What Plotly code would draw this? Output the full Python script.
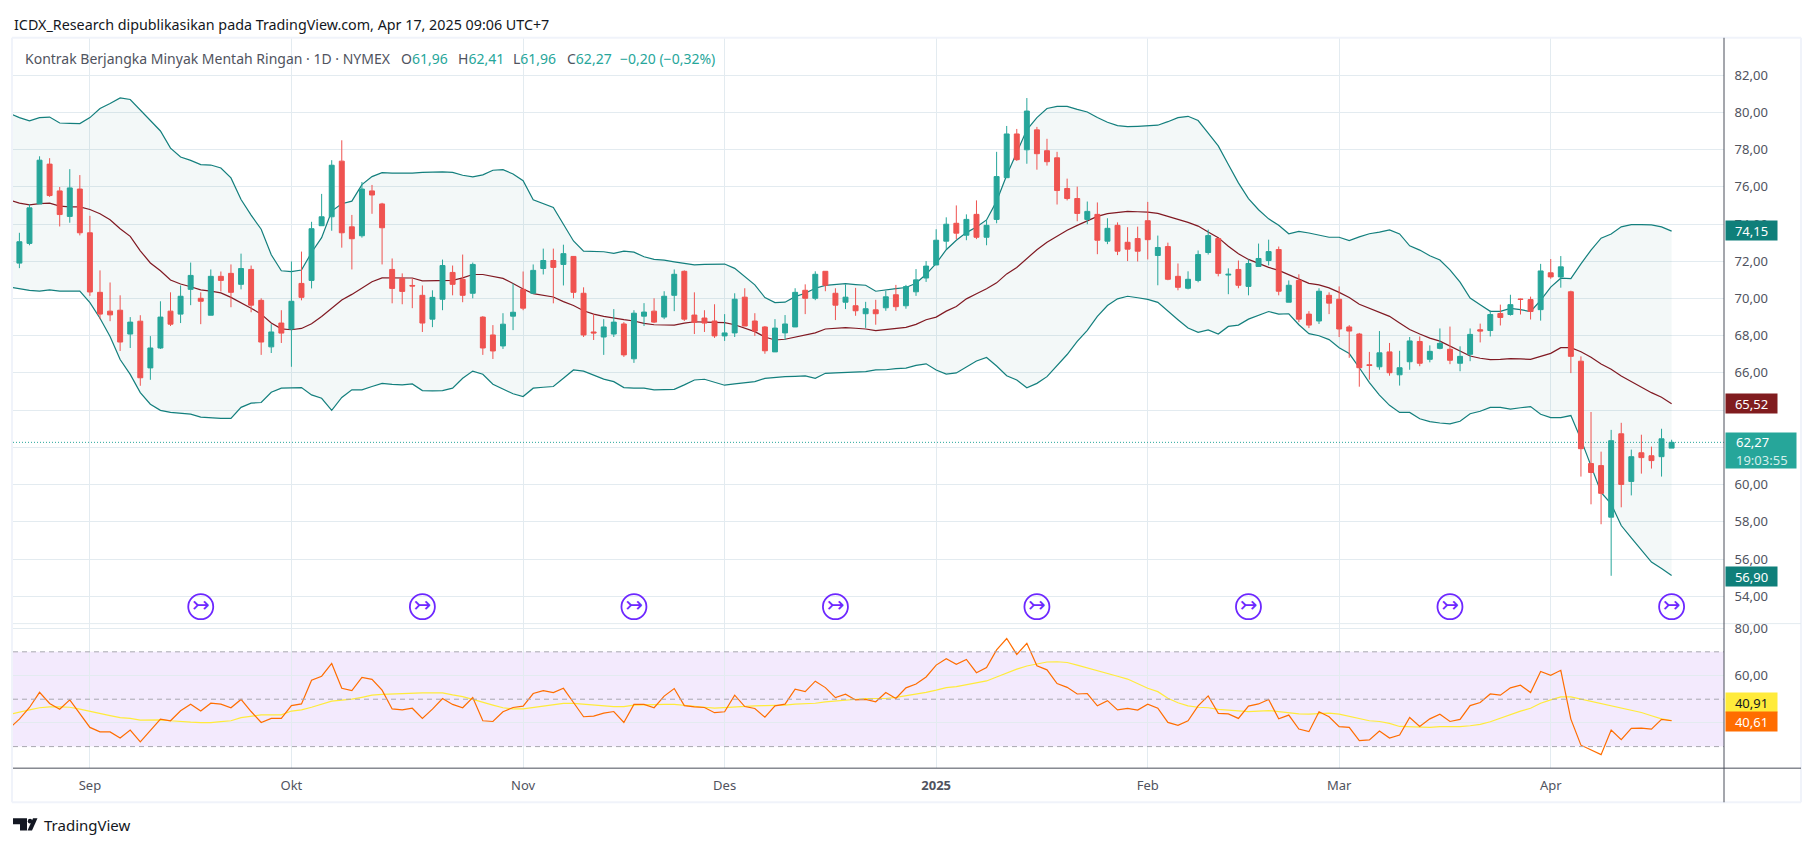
import plotly.graph_objects as go
from plotly.subplots import make_subplots

opens = [71.90, 72.96, 75.08, 77.22, 75.78, 74.41, 75.88, 73.53, 70.33, 69.32, 69.37, 68.09, 68.78, 66.27, 67.34, 69.32, 69.16, 70.49, 70.01, 69.10, 71.19, 71.35, 70.76, 71.56, 69.90, 67.40, 68.68, 68.36,
         70.81, 70.97, 73.91, 74.39, 77.38, 73.85, 73.37, 75.78, 75.08, 71.56, 71.08, 70.70, 70.17, 68.89, 69.96, 71.40, 71.03, 70.28, 69.00, 68.04, 67.45, 69.05, 70.49, 70.28, 71.61, 72.04, 71.83,
         72.26, 70.28, 68.20, 67.93, 68.09, 68.63, 66.76, 69.05, 69.32, 69.00, 70.17, 71.46, 69.11, 68.95, 68.79, 67.99, 68.15, 70.07, 68.79, 68.47, 67.13, 68.15, 68.47, 70.44, 70.01, 71.46, 70.28, 69.80,
         69.61, 69.18, 69.39, 69.50, 70.20, 69.61, 70.36, 71.10, 71.80, 73.08, 74.04, 73.40, 74.52, 73.29, 74.25, 76.49, 78.84, 77.99, 79.06, 77.94, 77.56, 75.91, 75.37, 74.25, 74.52, 73.08, 73.93, 73.02,
         73.22, 74.18, 72.31, 72.79, 71.19, 70.55, 70.97, 72.47, 73.22, 71.26, 71.56, 70.65, 71.72, 72.04, 72.63, 69.80, 70.97, 69.16, 68.79, 70.17, 69.96, 68.47, 68.09, 66.44, 66.33, 67.13, 65.90, 66.60,
         67.69, 66.73, 67.32, 67.27, 66.52, 67.00, 68.32, 68.28, 69.19, 69.14, 69.97, 69.94, 69.40, 71.38, 71.16, 70.36, 66.63, 61.13, 61.02, 58.25, 62.73, 60.17, 61.71, 61.55, 61.50, 61.96]
highs = [73.53, 75.06, 77.64, 77.54, 75.99, 76.95, 76.63, 74.44, 71.51, 70.86, 70.17, 69.00, 69.10, 67.98, 69.85, 70.33, 70.70, 71.93, 70.33, 71.56, 71.45, 71.83, 72.41, 71.77, 70.01, 68.62, 69.37, 71.99,
         72.52, 74.12, 75.62, 77.43, 78.50, 74.49, 76.26, 76.10, 75.14, 72.15, 71.35, 71.08, 70.70, 70.44, 72.09, 71.77, 72.36, 71.93, 69.05, 68.57, 69.21, 70.81, 71.45, 71.83, 72.68, 72.68, 72.89,
         72.28, 70.60, 69.16, 68.89, 69.43, 68.73, 69.37, 69.75, 70.01, 70.39, 71.56, 71.51, 70.33, 69.37, 69.69, 69.16, 70.28, 70.55, 69.21, 68.52, 68.89, 69.11, 70.55, 70.76, 71.46, 71.46, 70.55, 70.76,
         70.57, 69.82, 69.93, 70.41, 70.73, 70.73, 71.58, 72.01, 73.72, 74.36, 75.00, 74.52, 75.27, 74.25, 77.88, 79.27, 79.11, 80.77, 79.22, 78.58, 77.88, 76.44, 76.01, 75.21, 75.16, 74.31, 74.09, 73.83,
         73.86, 75.19, 73.38, 73.00, 71.88, 71.46, 72.58, 73.70, 73.22, 71.62, 72.04, 72.10, 72.95, 73.16, 72.79, 70.97, 71.30, 69.32, 70.55, 70.33, 70.65, 68.57, 68.15, 67.13, 68.25, 67.61, 67.19, 67.93,
         67.96, 67.48, 68.39, 68.49, 67.43, 68.39, 68.65, 69.35, 69.67, 70.20, 69.99, 70.10, 71.86, 72.12, 72.28, 70.42, 66.89, 63.90, 61.77, 62.94, 63.32, 61.88, 62.68, 62.04, 63.00, 62.41]
lows = [71.63, 72.86, 75.08, 75.46, 73.87, 74.07, 73.39, 70.14, 68.89, 68.78, 67.18, 67.34, 65.31, 65.63, 67.29, 68.52, 68.68, 69.64, 68.62, 69.10, 70.38, 69.53, 70.49, 69.26, 66.97, 67.07, 67.61, 66.33,
        69.90, 70.54, 73.91, 73.64, 72.73, 71.56, 73.27, 74.55, 71.83, 69.74, 69.69, 69.48, 68.20, 68.46, 69.37, 70.17, 69.80, 70.01, 66.97, 66.75, 67.29, 68.30, 69.37, 70.28, 71.29, 69.74, 70.70,
        70.01, 67.93, 67.77, 66.97, 67.93, 66.86, 66.54, 68.52, 68.68, 68.89, 69.32, 68.79, 68.09, 68.20, 67.88, 67.72, 67.93, 68.52, 67.99, 67.03, 67.13, 67.77, 68.47, 69.16, 69.91, 70.39, 68.84, 69.43,
        69.07, 68.42, 68.59, 69.34, 69.34, 69.45, 70.14, 70.89, 71.80, 72.65, 73.19, 73.13, 73.19, 72.86, 74.04, 76.49, 77.39, 77.24, 76.92, 77.14, 75.05, 75.27, 74.15, 73.99, 72.38, 72.92, 72.33, 72.01,
        71.99, 72.10, 70.71, 70.98, 70.44, 70.49, 70.87, 72.36, 71.19, 70.23, 70.55, 70.17, 71.72, 71.78, 70.17, 69.80, 68.73, 68.41, 68.63, 69.16, 67.93, 66.81, 65.26, 65.64, 66.17, 65.85, 65.32, 66.17,
        66.36, 66.57, 67.27, 66.47, 66.09, 66.63, 67.64, 67.96, 68.55, 69.08, 69.14, 68.87, 68.81, 71.06, 70.58, 65.99, 60.43, 58.94, 57.87, 55.10, 58.78, 59.42, 60.59, 60.86, 60.43, 61.96]
closes = [73.05, 74.87, 77.43, 75.53, 74.51, 75.94, 73.53, 70.35, 69.16, 69.12, 67.66, 68.73, 65.74, 67.34, 69.00, 68.62, 70.12, 71.24, 69.85, 71.19, 70.97, 70.33, 71.61, 69.64, 67.66, 68.20, 68.14, 69.85,
          70.06, 73.75, 74.39, 77.16, 73.53, 73.21, 75.88, 75.56, 73.80, 70.54, 70.38, 70.67, 68.68, 70.06, 71.77, 70.76, 70.17, 71.83, 67.34, 67.18, 68.62, 69.26, 69.48, 71.51, 72.04, 71.67, 72.41,
          70.33, 68.04, 68.15, 68.47, 68.73, 66.97, 69.21, 69.27, 68.73, 70.12, 71.30, 68.89, 68.72, 68.68, 67.99, 68.15, 69.96, 68.52, 68.25, 67.19, 68.41, 68.63, 70.33, 70.01, 71.30, 70.71, 69.64, 70.07,
          69.34, 69.45, 69.18, 70.09, 69.56, 70.64, 71.00, 71.74, 73.13, 73.99, 73.51, 74.25, 73.29, 73.93, 76.55, 78.84, 77.46, 80.07, 77.78, 77.35, 75.80, 75.37, 74.57, 74.68, 73.13, 73.77, 72.54, 72.65,
          72.54, 73.16, 72.74, 71.03, 70.60, 71.03, 72.36, 73.38, 71.35, 71.30, 70.71, 71.88, 72.15, 72.52, 70.39, 70.71, 68.89, 68.57, 70.39, 69.75, 68.36, 68.25, 66.28, 66.40, 67.08, 66.01, 66.28, 67.72,
          66.52, 67.16, 67.59, 66.68, 66.89, 68.07, 68.25, 69.14, 68.98, 69.67, 69.95, 69.30, 71.48, 71.16, 71.70, 66.89, 61.93, 60.65, 59.53, 62.36, 60.01, 61.50, 61.45, 61.29, 62.46, 62.27]

# the indicator lists start one bar before the first candle, that bar is cut off by the left edge
bb_upper = [79.95, 79.72, 79.54, 79.72, 79.75, 79.43, 79.41, 79.40, 79.72, 80.21, 80.48, 80.78, 80.69, 80.12, 79.59, 79.00, 78.08, 77.60, 77.42, 77.19, 77.17, 77.01, 76.48, 75.32, 74.48, 73.72, 72.35, 71.49, 71.44,
            71.53, 72.47, 73.27, 74.70, 75.09, 75.23, 76.12, 76.55, 76.76, 76.74, 76.73, 76.74, 76.78, 76.80, 76.80, 76.78, 76.62, 76.53, 76.64, 76.89, 76.92, 76.69, 76.33, 75.30, 75.11, 74.89, 73.99,
            73.09, 72.54, 72.54, 72.51, 72.42, 72.54, 72.49, 72.24, 72.10, 72.06, 71.97, 71.90, 71.81, 71.83, 71.83, 71.85, 71.62, 71.17, 70.73, 70.05, 69.78, 69.80, 70.10, 70.28, 70.55, 70.70, 70.73, 70.80,
            70.75, 70.71, 70.39, 70.48, 70.53, 70.59, 70.82, 71.30, 71.89, 72.62, 73.13, 73.54, 73.84, 74.22, 75.23, 76.62, 77.81, 79.06, 79.72, 80.21, 80.32, 80.32, 80.16, 80.02, 79.72, 79.47, 79.29, 79.23,
            79.25, 79.29, 79.31, 79.50, 79.72, 79.79, 79.56, 78.88, 78.20, 77.20, 76.21, 75.37, 74.77, 74.28, 73.93, 73.48, 73.61, 73.52, 73.40, 73.29, 73.29, 73.11, 73.31, 73.48, 73.57, 73.68, 73.47, 72.83,
            72.60, 72.30, 72.07, 71.54, 70.88, 70.02, 69.67, 69.31, 69.31, 69.47, 69.40, 69.30, 69.90, 70.61, 71.09, 71.07, 71.86, 72.60, 73.24, 73.46, 73.85, 73.97, 73.97, 73.95, 73.85, 73.62]
bb_mid = [75.30, 75.12, 75.03, 75.10, 75.12, 74.96, 74.92, 74.92, 74.78, 74.55, 74.23, 73.75, 73.34, 72.56, 71.91, 71.49, 70.99, 70.78, 70.63, 70.46, 70.40, 70.30, 70.06, 69.78, 69.48, 69.16, 68.68, 68.37, 68.32,
          68.39, 68.64, 69.03, 69.48, 69.92, 70.22, 70.54, 70.90, 71.11, 71.11, 71.11, 71.10, 70.95, 70.95, 70.97, 70.97, 71.11, 71.29, 71.29, 71.17, 71.08, 70.81, 70.51, 70.26, 70.19, 70.08, 69.83,
          69.62, 69.34, 69.16, 69.04, 68.93, 68.86, 68.79, 68.66, 68.59, 68.57, 68.57, 68.68, 68.75, 68.73, 68.73, 68.70, 68.59, 68.41, 68.22, 67.93, 67.77, 67.81, 67.91, 68.02, 68.15, 68.36, 68.40, 68.43,
          68.40, 68.36, 68.27, 68.33, 68.38, 68.45, 68.61, 68.86, 69.00, 69.32, 69.57, 69.98, 70.25, 70.52, 70.84, 71.32, 71.67, 72.15, 72.62, 73.02, 73.36, 73.67, 73.93, 74.16, 74.41, 74.56, 74.64, 74.68,
          74.66, 74.64, 74.57, 74.39, 74.25, 74.09, 73.89, 73.57, 73.27, 72.81, 72.40, 72.10, 71.88, 71.67, 71.51, 71.28, 71.06, 70.81, 70.73, 70.57, 70.33, 70.05, 69.69, 69.48, 69.27, 69.04, 68.68, 68.33,
          68.09, 67.87, 67.71, 67.44, 67.14, 66.91, 66.79, 66.72, 66.73, 66.77, 66.75, 66.73, 66.89, 67.05, 67.36, 67.36, 67.14, 66.84, 66.48, 66.20, 65.84, 65.54, 65.22, 64.94, 64.69, 64.35]
bb_lower = [70.62, 70.53, 70.44, 70.40, 70.46, 70.40, 70.40, 70.40, 69.78, 68.94, 67.96, 66.72, 65.92, 64.94, 64.32, 63.99, 63.88, 63.84, 63.79, 63.63, 63.58, 63.56, 63.56, 64.15, 64.38, 64.41, 64.96, 65.18, 65.20,
            65.21, 64.82, 64.64, 63.99, 64.68, 65.09, 65.09, 65.27, 65.44, 65.39, 65.36, 65.41, 65.05, 65.04, 65.05, 65.18, 65.71, 66.10, 65.93, 65.39, 65.14, 64.88, 64.73, 65.18, 65.23, 65.27, 65.71,
            66.16, 66.10, 65.89, 65.67, 65.53, 65.21, 65.18, 65.18, 65.09, 65.09, 65.12, 65.36, 65.62, 65.66, 65.48, 65.34, 65.41, 65.48, 65.53, 65.71, 65.77, 65.80, 65.82, 65.84, 65.71, 65.98, 66.00, 66.01,
            66.05, 66.07, 66.16, 66.17, 66.23, 66.26, 66.41, 66.49, 66.16, 65.94, 66.00, 66.33, 66.64, 66.83, 66.37, 65.85, 65.62, 65.20, 65.44, 65.80, 66.42, 66.99, 67.70, 68.29, 69.04, 69.62, 69.98, 70.12,
            70.04, 69.95, 69.79, 69.31, 68.86, 68.41, 68.18, 68.31, 68.09, 68.50, 68.57, 68.89, 69.09, 69.30, 69.16, 69.18, 68.59, 68.11, 68.00, 67.79, 67.35, 67.04, 66.28, 65.48, 64.81, 64.26, 63.88, 63.88,
            63.54, 63.38, 63.31, 63.26, 63.40, 63.81, 63.94, 64.15, 64.15, 64.06, 64.13, 64.19, 63.78, 63.60, 63.60, 63.71, 62.43, 61.00, 59.58, 58.96, 57.80, 57.14, 56.47, 55.84, 55.49, 55.11]

rsi = [37.7, 41.6, 46.5, 52.9, 48.2, 45.8, 49.7, 44.0, 38.1, 36.2, 36.2, 33.6, 37.0, 32.0, 36.7, 41.6, 40.9, 45.1, 47.9, 45.0, 48.3, 47.9, 46.4, 49.9, 44.8, 40.2, 41.9, 41.9, 47.3,
       48.0, 58.0, 59.7, 65.1, 54.6, 53.6, 59.2, 58.4, 53.8, 45.9, 45.5, 46.2, 41.9, 45.8, 50.3, 47.8, 46.4, 50.7, 40.9, 40.6, 44.7, 46.5, 47.1, 52.4, 53.6, 52.8, 54.6,
       48.6, 42.6, 42.9, 44.1, 44.8, 40.2, 47.8, 47.8, 46.4, 51.3, 54.5, 47.3, 46.8, 46.5, 44.3, 44.7, 51.7, 46.9, 46.1, 42.4, 47.2, 47.9, 54.2, 53.2, 57.6, 54.9, 50.7, 52.1,
       49.7, 49.9, 48.9, 52.8, 50.3, 54.8, 56.4, 59.4, 64.4, 67.1, 64.7, 66.8, 61.2, 63.4, 70.8, 75.6, 68.9, 73.6, 64.1, 62.4, 56.6, 55.0, 52.2, 52.4, 47.2, 49.4, 45.5, 46.1,
       45.4, 47.9, 46.2, 40.2, 39.0, 40.9, 47.2, 51.4, 44.0, 43.8, 41.9, 47.1, 48.0, 49.9, 41.7, 43.3, 37.4, 36.3, 44.7, 42.6, 38.4, 38.1, 32.5, 32.8, 36.6, 33.6, 34.9, 42.3,
       38.5, 41.7, 43.7, 40.6, 41.5, 47.3, 48.6, 52.2, 51.7, 54.8, 55.9, 52.8, 61.7, 60.1, 62.2, 41.6, 30.6, 28.6, 26.6, 37.0, 32.9, 37.7, 37.8, 37.4, 41.5, 40.9]
rsi_ma = [43.6, 44.7, 45.5, 46.4, 46.8, 46.8, 46.6, 45.8, 45.0, 44.1, 43.1, 42.2, 41.9, 41.2, 41.2, 41.3, 40.9, 40.5, 40.3, 40.1, 40.1, 40.5, 40.9, 42.2, 42.7, 43.4, 43.4, 43.4, 45.0,
          45.5, 46.6, 47.9, 49.2, 49.6, 50.0, 50.8, 51.7, 52.0, 52.2, 52.4, 52.7, 52.7, 52.7, 52.7, 51.8, 51.1, 49.9, 48.6, 47.5, 46.4, 45.9, 45.9, 46.5, 47.1, 47.6, 48.2,
          48.2, 47.8, 47.5, 47.2, 46.9, 46.9, 47.5, 47.6, 47.8, 47.8, 47.8, 47.3, 46.9, 46.6, 46.2, 46.5, 46.9, 47.1, 47.2, 47.3, 47.3, 47.5, 47.9, 48.0, 48.3, 48.9, 49.3, 49.7,
          50.0, 50.3, 50.3, 50.3, 50.8, 51.4, 52.2, 52.9, 53.8, 54.9, 55.3, 56.0, 56.9, 57.7, 59.4, 61.2, 62.7, 64.0, 65.0, 65.7, 65.8, 65.5, 64.4, 63.3, 61.9, 60.8, 59.7, 58.5,
          56.7, 54.6, 53.2, 50.4, 48.5, 47.2, 46.6, 46.4, 45.7, 45.4, 44.8, 44.8, 45.0, 45.2, 44.8, 44.3, 43.8, 43.7, 44.0, 44.1, 43.7, 42.7, 41.6, 40.9, 40.6, 39.8, 38.5, 38.3,
          38.0, 38.1, 38.4, 38.4, 38.4, 38.8, 39.4, 40.5, 42.0, 43.7, 45.0, 46.2, 48.3, 49.7, 51.0, 51.0, 50.1, 49.2, 48.2, 47.3, 46.4, 45.4, 44.4, 43.0, 41.7, 41.0]

bars = list(range(len(closes)))
ind_bars = list(range(-1, len(closes)))
month_bars = [7, 27, 50, 70, 91, 112, 131, 152]
month_labels = ["Sep", "Okt", "Nov", "Des", "<b>2025</b>", "Feb", "Mar", "Apr"]
price_ticks = [54, 56, 58, 60, 62, 64, 66, 68, 70, 72, 74, 76, 78, 80, 82]
# 62 and 64 sit behind the value tags in the reference
price_labels = ["" if t in (62, 64) else "%d,00" % t for t in price_ticks]
rsi_ticks = [40, 60, 80]
rsi_labels = ["", "60,00", "80,00"]
event_bars = [18, 40, 61, 81, 101, 122, 142, 164]

W, H = 1814, 846
GRID = "#e3ebf0"
UP = "#26a69a"
DOWN = "#ef5350"
BAND = "#137f7d"
TEXT = "#50535e"
FONT = "Noto Sans"
PRICE_RANGE = [52.53, 83.98]
RSI_RANGE = [20.9, 81.9]
X_RANGE = [-0.635, 169.2]


def px(x):
    return x / W


def py(y):
    return 1 - y / H


def poly(points):
    return "M" + " L".join("%.5f,%.5f" % (px(a), py(b)) for a, b in points) + " Z"


def label(x, y, text, color, size):
    fig.add_annotation(xref="paper", yref="paper", x=px(x), y=py(y), xanchor="left", yanchor="middle",
                       showarrow=False, text=text, font=dict(color=color, size=size, family=FONT))


fig = make_subplots(rows=2, cols=1, shared_xaxes=True)

fig.add_trace(go.Scatter(x=ind_bars, y=bb_upper, mode="lines", line=dict(color=BAND, width=1.2)), row=1, col=1)
fig.add_trace(go.Scatter(x=ind_bars, y=bb_lower, mode="lines", line=dict(color=BAND, width=1.2),
                         fill="tonexty", fillcolor="rgba(19,127,125,0.05)"), row=1, col=1)
fig.add_trace(go.Scatter(x=ind_bars, y=bb_mid, mode="lines", line=dict(color="#801922", width=1.2)), row=1, col=1)
fig.add_trace(go.Scatter(x=X_RANGE, y=[closes[-1], closes[-1]], mode="lines",
                         line=dict(color=UP, width=1, dash="1px,2px")), row=1, col=1)
fig.add_trace(go.Scatter(x=event_bars, y=[53.44] * len(event_bars), mode="markers+text", text=["↣"] * len(event_bars),
                         textposition="middle center", textfont=dict(color="#6d28ff", size=21, family="DejaVu Sans"),
                         marker=dict(symbol="circle-open", size=25, color="#6d28ff", line=dict(width=1.8, color="#6d28ff"))),
              row=1, col=1)
# candles on an overlay axis so they sit on top of the bands
fig.add_trace(go.Candlestick(x=bars, open=opens, high=highs, low=lows, close=closes, xaxis="x", yaxis="y3",
                             increasing=dict(line=dict(color=UP, width=1), fillcolor=UP),
                             decreasing=dict(line=dict(color=DOWN, width=1), fillcolor=DOWN)))

fig.add_trace(go.Scatter(x=ind_bars, y=rsi_ma, mode="lines", line=dict(color="#ffeb3b", width=1.2)), row=2, col=1)
fig.add_trace(go.Scatter(x=ind_bars, y=rsi, mode="lines", line=dict(color="#ff6d00", width=1.2)), row=2, col=1)

for level in [70, 50, 30]:
    fig.add_shape(type="line", x0=X_RANGE[0], x1=X_RANGE[1], y0=level, y1=level, xref="x2", yref="y2",
                  line=dict(color="#a8a8b0", width=1, dash="5px,4px"), layer="above")
fig.add_shape(type="rect", x0=X_RANGE[0], x1=X_RANGE[1], y0=30, y1=70, xref="x2", yref="y2",
              fillcolor="rgba(155,80,240,0.12)", line_width=0, layer="below")

frame = "#f0f3fa"
shapes_px = [
    (12, 33, 1801, 33, frame, 2), (12, 33, 12, 802, frame, 2), (1801, 33, 1801, 802, frame, 2),
    (12, 802, 1801, 802, frame, 2), (13, 622.3, 1724, 622.3, GRID, 1),
    (1724, 622.3, 1801, 622.3, GRID, 1), (13, 767.7, 1801, 767.7, "#4a4e5a", 1), (1724, 33, 1724, 802, "#4a4e5a", 1),
]
for x0, y0, x1, y1, color, width in shapes_px:
    fig.add_shape(type="line", xref="paper", yref="paper", x0=px(x0), x1=px(x1), y0=py(y0), y1=py(y1),
                  line=dict(color=color, width=width), layer="above")

# TradingView logo
fig.add_shape(type="path", xref="paper", yref="paper", fillcolor="#131722", line_width=0,
              path=poly([(13, 818), (27, 818), (27, 830.5), (20, 830.5), (20, 824), (13, 824)]))
fig.add_shape(type="path", xref="paper", yref="paper", fillcolor="#131722", line_width=0,
              path=poly([(33, 818), (37.5, 818), (32, 830.5), (27.5, 830.5)]))
fig.add_shape(type="circle", xref="paper", yref="paper", fillcolor="#131722", line_width=0,
              x0=px(27.8), x1=px(32.2), y0=py(823.4), y1=py(818.6))

price_tags = [
    (226.5, "74,15", "#0f7f7a", "#ffffff"), (401, "65,52", "#801c1f", "#ffffff"),
    (574.5, "56,90", "#0f7f7a", "#ffffff"), (701.5, "40,91", "#ffeb3b", "#131722"),
    (720.5, "40,61", "#ff6d00", "#ffffff"),
]
for y, text, bg, fg in price_tags:
    fig.add_annotation(xref="paper", yref="paper", x=px(1725), y=py(y), xanchor="left", yanchor="middle", text=text,
                       showarrow=False, bgcolor=bg, width=51, height=19, borderpad=0, align="center",
                       font=dict(color=fg, size=13, family=FONT))
# last price block
fig.add_annotation(xref="paper", yref="paper", x=px(1725), y=py(448.5), xanchor="left", yanchor="middle", text=" ",
                   showarrow=False, bgcolor=UP, width=70, height=35, borderpad=0)
label(1733.5, 440, "62,27", "#ffffff", 13)
label(1733.5, 457.5, "19:03:55", "#d4eeeb", 13)

label(12, 20, "ICDX_Research dipublikasikan pada TradingView.com, Apr 17, 2025 09:06 UTC+7", "#131722", 14.3)
label(22.5, 53.5, "Kontrak Berjangka Minyak Mentah Ringan · 1D · NYMEX", TEXT, 14)
ohlc_legend = [(399, "O", "61,96"), (455.5, "H", "62,41"), (511, "L", "61,96"), (564.5, "C", "62,27")]
for x, head, val in ohlc_legend:
    label(x, 53.5, "<span style='color:%s'>%s</span><span style='color:%s'>%s</span>" % (TEXT, head, UP, val), UP, 14)
label(618, 53.5, "−0,20 (−0,32%)", UP, 14)
label(42, 824.5, "TradingView", "#131722", 15)

grid_axis = dict(showgrid=True, gridcolor=GRID, gridwidth=1, zeroline=False, showline=False)
fig.update_layout(
    width=W, height=H, margin=dict(l=0, r=0, t=0, b=0), paper_bgcolor="#ffffff", plot_bgcolor="#ffffff",
    showlegend=False, hovermode=False, boxgap=0.3, font=dict(family=FONT, color=TEXT, size=13),
    xaxis=dict(domain=[px(13), px(1724)], range=X_RANGE, tickmode="array", tickvals=month_bars, ticktext=month_labels,
               showticklabels=False, rangeslider=dict(visible=False), **grid_axis),
    xaxis2=dict(domain=[px(13), px(1724)], range=X_RANGE, tickmode="array", tickvals=month_bars, ticktext=month_labels,
                showticklabels=True, ticks="outside", ticklen=5, tickcolor="rgba(0,0,0,0)", **grid_axis),
    yaxis=dict(domain=[py(622.3), py(33.5)], range=PRICE_RANGE, side="right", tickmode="array", tickvals=price_ticks,
               ticktext=price_labels, ticks="outside", ticklen=7, tickcolor="rgba(0,0,0,0)", **grid_axis),
    yaxis2=dict(domain=[py(767.7), py(622.3)], range=RSI_RANGE, side="right", tickmode="array", tickvals=rsi_ticks,
                ticktext=rsi_labels, ticks="outside", ticklen=7, tickcolor="rgba(0,0,0,0)", **grid_axis),
    yaxis3=dict(overlaying="y", range=PRICE_RANGE, visible=False, side="right", anchor="x"),
)

fig.write_html("out.html", config={"displayModeBar": False}, post_script="document.body.style.margin='0';")
